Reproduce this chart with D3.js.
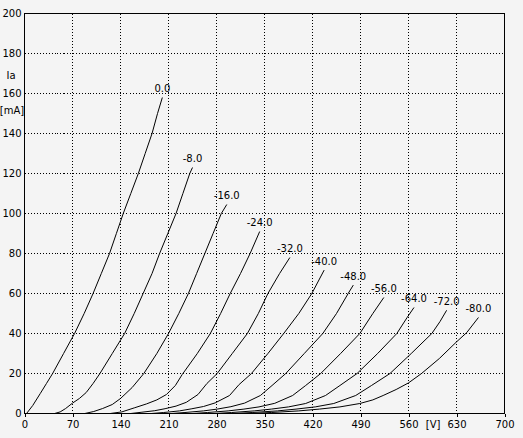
<!DOCTYPE html>
<html>
<head>
<meta charset="utf-8">
<script src="https://cdn.jsdelivr.net/npm/d3@7"></script>
<style>
  html, body { margin: 0; padding: 0; background: #f4f4f4; }
  svg { display: block; }
  text { font-family: "DejaVu Sans", Verdana, sans-serif; font-size: 10px; fill: #000; }
</style>
</head>
<body>
<svg id="chart" width="523" height="438"></svg>
<script>
// ---- data (anode voltage [V], anode current [mA]) ----
const gridLabels = ["0.0", "-8.0", "-16.0", "-24.0", "-32.0", "-40.0", "-48.0", "-56.0", "-64.0", "-72.0", "-80.0"];

const curveG0 = [[3,0],[12,4],[23,10],[32,15],[41,20],[57,30],[73,40],[87,50],[100,60],[112,70],[124,80],[134,90],[144,100],[155,110],[166,120],[176,130],[186,140],[194,150],[201,158]];
const curveG8 = [[44,0],[52,0.8],[60,2.5],[70,5.2],[80,7.5],[90,10.5],[100,15],[110,20],[128,30],[146,40],[160,50],[173,60],[186,70],[197,80],[209,90],[221,100],[231,110],[241,120],[245,123]];
const curveG16 = [[88,0],[101,1],[114,2.5],[128,4.5],[140,7.5],[157,13],[174,20],[193,30],[210,40],[225,50],[239,60],[251,70],[263,80],[275,90],[287,100],[295,104.5]];
const curveG24 = [[125,0],[142,0.8],[160,2.8],[178,4.8],[193,6.8],[207,9.5],[220,14],[230,19.5],[252,30],[271,40],[286,50],[300,60],[315,70],[329,80],[343,91]];
const curveG32 = [[155,0],[170,0.6],[190,1.4],[205,2.4],[221,3.7],[236,5.6],[253,9.5],[266,15],[281,20],[303,30],[325,40],[341,50],[355,60],[372,70],[387,78]];
const curveG40 = [[185,0],[203,0.5],[226,1.3],[243,2.3],[261,3.5],[278,5.3],[299,9],[313,14.5],[331,20],[355,30],[378,40],[400,50],[419,60],[437,71.7]];
const curveG48 = [[214,0],[234,0.5],[261,1.3],[281,2.2],[301,3.4],[321,5.2],[344,9],[361,14],[381,20],[408,30],[435,40],[455,50],[472,60],[479.5,64.2]];
const curveG56 = [[245,0],[267,0.5],[297,1.3],[320,2.2],[342,3.3],[365,5.1],[391,9],[410,14],[432,20],[461,30],[489,40],[508,50],[524,58]];
const curveG64 = [[277,0],[302,0.5],[335,1.3],[360,2.2],[385,3.3],[410,5],[439,9],[460,14],[485,20],[515,30],[543,40],[558,48],[568,53]];
const curveG72 = [[305,0],[332,0.5],[369,1.3],[396,2.2],[424,3.3],[451,5],[483,9],[506,14],[533,20],[564,30],[594,40],[606,46],[615.6,51.6]];
const curveG80 = [[330,0],[360,0.5],[400,1.3],[430,2.2],[460,3.3],[489,5],[508,6.8],[523,9],[542,12],[560,15.3],[579,20],[605,27.5],[630,35.8],[645,40.5],[662,48]];

const xTicks = [0, 70, 140, 210, 280, 350, 420, 490, 560, 630, 700];
const yTicks = [0, 20, 40, 60, 80, 100, 120, 140, 160, 180, 200];
const xUnit = "[V]";
const yName = "Ia";
const yUnit = "[mA]";

const curves = [curveG0, curveG8, curveG16, curveG24, curveG32, curveG40, curveG48, curveG56, curveG64, curveG72, curveG80];

// ---- drawing ----
const svg = d3.select("#chart");
const x = d3.scaleLinear().domain([0, 700]).range([24.5, 504.5]);
const y = d3.scaleLinear().domain([0, 200]).range([413.5, 13.5]);

// grid
const grid = svg.append("g").attr("stroke", "#000").attr("stroke-width", 1).attr("stroke-dasharray", "1,2").attr("shape-rendering", "crispEdges");
grid.selectAll("line.v").data(xTicks.slice(1, -1)).join("line")
  .attr("x1", d => x(d)).attr("x2", d => x(d)).attr("y1", y(200)).attr("y2", y(0));
grid.selectAll("line.h").data(yTicks.slice(1, -1)).join("line")
  .attr("x1", x(0)).attr("x2", x(700)).attr("y1", d => y(d)).attr("y2", d => y(d));

// axes
const xAxis = svg.append("g").attr("transform", `translate(0,${y(0)})`)
  .call(d3.axisBottom(x).tickValues(xTicks).tickSize(3).tickPadding(4).tickFormat(d3.format("d")));
const yAxis = svg.append("g").attr("transform", `translate(${x(0)},0)`)
  .call(d3.axisLeft(y).tickValues(yTicks).tickSize(0).tickPadding(3).tickFormat(d3.format("d")));
[xAxis, yAxis].forEach(a => {
  a.select(".domain").remove();
  a.selectAll("text").attr("fill", "#000");
  a.selectAll("line").attr("stroke", "#000").attr("shape-rendering", "crispEdges");
  a.attr("font-family", null).attr("font-size", null);
});

// frame
svg.append("rect").attr("x", x(0)).attr("y", y(200)).attr("width", x(700) - x(0)).attr("height", y(0) - y(200))
  .attr("fill", "none").attr("stroke", "#000").attr("shape-rendering", "crispEdges");

// axis titles
svg.append("text").attr("x", 11).attr("y", y(169)).attr("dy", "0.35em").attr("text-anchor", "middle").text(yName);
svg.append("text").attr("x", 12).attr("y", y(151.5)).attr("dy", "0.35em").attr("text-anchor", "middle").text(yUnit);
svg.append("text").attr("x", x(596)).attr("y", y(0) + 7).attr("dy", "0.71em").attr("text-anchor", "middle").text(xUnit);

// curves
const line = d3.line().x(d => x(d[0])).y(d => y(d[1]));
svg.append("g").selectAll("path").data(curves).join("path")
  .attr("d", line).attr("fill", "none").attr("stroke", "#000").attr("stroke-width", 1);

// curve labels
svg.append("g").selectAll("text").data(curves).join("text")
  .attr("x", d => x(d[d.length - 1][0]))
  .attr("y", d => y(d[d.length - 1][1]) - 5.5)
  .attr("text-anchor", "middle")
  .text((d, i) => gridLabels[i]);
</script>
</body>
</html>
